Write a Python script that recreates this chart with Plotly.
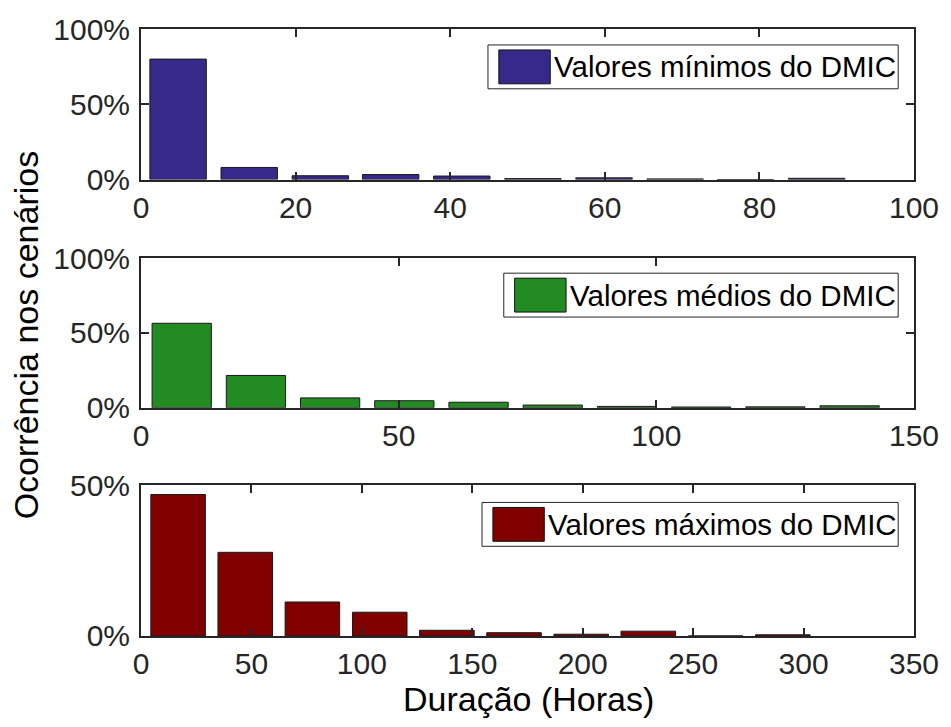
import plotly.graph_objects as go

# ---------------- data ----------------
series_names = ["Valores mínimos do DMIC", "Valores médios do DMIC", "Valores máximos do DMIC"]
series_colors = ["#35298A", "#228B22", "#800000"]

min_centers = [4.8, 14.0, 23.2, 32.3, 41.5, 50.7, 59.9, 69.1, 78.2, 87.4]
min_values = [80.0, 8.0, 2.5, 3.3, 2.3, 0.6, 1.1, 0.4, 0.0, 0.8]
min_width = 7.3

med_centers = [7.9, 22.3, 36.7, 51.1, 65.5, 79.9, 94.3, 108.7, 123.1, 137.5]
med_values = [56.5, 21.6, 6.6, 4.7, 3.7, 1.8, 0.9, 0.5, 0.6, 1.3]
med_width = 11.5

max_centers = [16.8, 47.2, 77.6, 108.1, 138.5, 168.9, 199.3, 229.7, 260.2, 290.6]
max_values = [47.0, 27.8, 11.3, 7.9, 1.9, 1.1, 0.6, 1.6, 0.0, 0.4]
max_width = 24.7

x_ranges = [[0, 100], [0, 150], [0, 350]]
x_ticks = [[0, 20, 40, 60, 80, 100], [0, 50, 100, 150], [0, 50, 100, 150, 200, 250, 300, 350]]
y_ranges = [[0, 100], [0, 100], [0, 50]]
y_ticks = [[0, 50, 100], [0, 50, 100], [0, 50]]
y_ticklabels = [["0%", "50%", "100%"], ["0%", "50%", "100%"], ["0%", "50%"]]

y_title = "Ocorrência nos cenários"
x_title = "Duração (Horas)"

# ---------------- layout geometry (pixels) ----------------
W, H = 951, 727
L, R = 141, 923          # axes left/right
T, B = 27, 636           # top of first axes / bottom of last axes
panel_pix = [(27, 178), (257, 407), (485, 636)]   # (top, bottom) of each panel
legend_pix = [  # (left, top, right, bottom) legend box
    (492, 43, 907, 87),
    (508, 272, 907, 316),
    (486, 502, 907, 546),
]
FONT = "Liberation Sans, Arial, sans-serif"
AXC = "#262626"

def py(p):
    return (B - p) / (B - T)

def px(p):
    return (p - L) / (R - L)

fig = go.Figure()
centers = [min_centers, med_centers, max_centers]
values = [min_values, med_values, max_values]
widths = [min_width, med_width, max_width]

for i in range(3):
    sfx = "" if i == 0 else str(i + 1)
    fig.add_trace(go.Bar(
        x=centers[i], y=values[i], width=widths[i],
        marker=dict(color=series_colors[i], line=dict(color="#1a1a1a", width=1)),
        name=series_names[i], showlegend=False,
        xaxis="x" + sfx, yaxis="y" + sfx,
    ))
    top, bot = panel_pix[i]
    axis_common = dict(
        showline=True, linecolor=AXC, linewidth=2, mirror="ticks",
        ticks="inside", ticklen=8, tickwidth=1.5, tickcolor=AXC,
        showgrid=False, zeroline=False,
        tickfont=dict(family=FONT, size=30, color=AXC),
    )
    fig.update_layout(**{
        "xaxis" + sfx: dict(domain=[0, 1], range=x_ranges[i], tickvals=x_ticks[i],
                            anchor="y" + sfx, **axis_common),
        "yaxis" + sfx: dict(domain=[py(bot), py(top)], range=y_ranges[i], tickvals=y_ticks[i],
                            ticktext=y_ticklabels[i], anchor="x" + sfx,
                            ticklabelstandoff=3, **axis_common),
    })
    # legend box
    lx0, ly0, lx1, ly1 = legend_pix[i]
    fig.add_shape(type="rect", xref="paper", yref="paper",
                  x0=px(lx0), x1=px(lx1), y0=py(ly1), y1=py(ly0),
                  line=dict(color="#262626", width=1), fillcolor="white", layer="above")
    pad = 5
    fig.add_shape(type="rect", xref="paper", yref="paper",
                  x0=px(lx0 + 11), x1=px(lx0 + 11 + 52), y0=py(ly1 - pad), y1=py(ly0 + pad),
                  line=dict(color="#111111", width=1), fillcolor=series_colors[i], layer="above")
    fig.add_annotation(xref="paper", yref="paper", x=px(lx0 + 11 + 52 + 2), y=py((ly0 + ly1) / 2),
                       xanchor="left", yanchor="middle", showarrow=False,
                       text=series_names[i], font=dict(family=FONT, size=29.5, color="black"))

fig.add_annotation(xref="paper", yref="paper", x=px(25), y=py(334), textangle=-90,
                   xanchor="center", yanchor="middle", showarrow=False,
                   text=y_title, font=dict(family=FONT, size=34, color="black"))
fig.add_annotation(xref="paper", yref="paper", x=px(533), y=py(699),
                   xanchor="center", yanchor="middle", showarrow=False,
                   text=x_title, font=dict(family=FONT, size=34, color="black"))

fig.update_layout(
    width=W, height=H,
    margin=dict(l=L, r=W - R, t=T, b=H - B, pad=0),
    plot_bgcolor="white", paper_bgcolor="white",
    showlegend=False, barmode="overlay",
    font=dict(family=FONT),
)

fig.write_html("out.html", config={"displayModeBar": False},
               post_script="document.body.style.margin='0';document.body.style.overflow='hidden';")
